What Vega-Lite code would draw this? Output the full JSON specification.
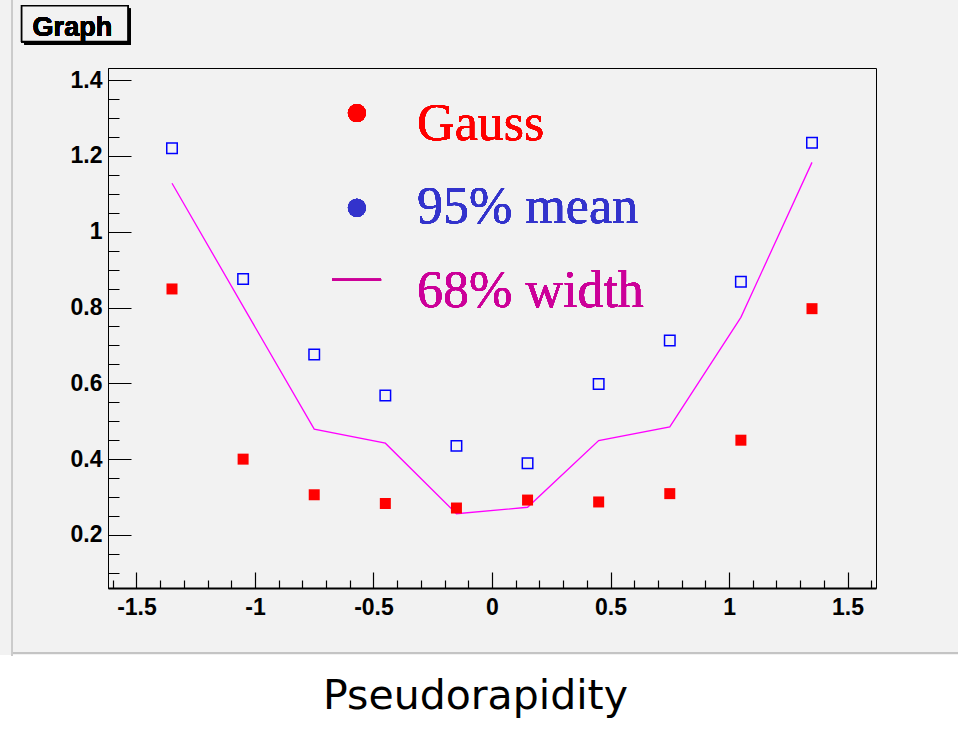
{
  "$schema": "https://vega.github.io/schema/vega-lite/v6.json",
  "autosize": "none",
  "width": 768,
  "height": 520,
  "padding": {"left": 108, "top": 68, "right": 82, "bottom": 155},
  "background": "#f2f2f2",
  "config": {"view": {"stroke": "black", "strokeWidth": 1}},
  "resolve": {"axis": {"x": "independent", "y": "independent"}},
  "data": {"values": [
    {"eta": -1.35, "gauss": 0.849, "mean95": 1.220, "width68": 1.128},
    {"eta": -1.05, "gauss": 0.400, "mean95": 0.875, "width68": 0.803},
    {"eta": -0.75, "gauss": 0.306, "mean95": 0.676, "width68": 0.479},
    {"eta": -0.45, "gauss": 0.283, "mean95": 0.568, "width68": 0.442},
    {"eta": -0.15, "gauss": 0.271, "mean95": 0.435, "width68": 0.256},
    {"eta": 0.15, "gauss": 0.292, "mean95": 0.389, "width68": 0.273},
    {"eta": 0.45, "gauss": 0.287, "mean95": 0.598, "width68": 0.449},
    {"eta": 0.75, "gauss": 0.309, "mean95": 0.713, "width68": 0.485},
    {"eta": 1.05, "gauss": 0.450, "mean95": 0.868, "width68": 0.774},
    {"eta": 1.35, "gauss": 0.797, "mean95": 1.235, "width68": 1.183}
  ]},
  "layer": [
    {
      "mark": {"type": "line", "color": "#ff00ff", "strokeWidth": 1.3},
      "encoding": {
        "x": {
          "field": "eta", "type": "quantitative",
          "scale": {"domain": [-1.62, 1.62], "nice": false, "zero": false},
          "axis": {
            "values": [-1.6,-1.5,-1.4,-1.3,-1.2,-1.1,-1,-0.9,-0.8,-0.7,-0.6,-0.5,-0.4,-0.3,-0.2,-0.1,0,0.1,0.2,0.3,0.4,0.5,0.6,0.7,0.8,0.9,1,1.1,1.2,1.3,1.4,1.5,1.6],
            "orient": "bottom",
            "grid": false,
            "domainColor": "black", "domainWidth": 2,
            "tickColor": "black", "tickWidth": 1.2,
            "tickSize": {"condition": {"test": "abs(datum.value*2-round(datum.value*2))<1e-6", "value": -16}, "value": -8},
            "labelExpr": "abs(datum.value*2-round(datum.value*2))<1e-6 ? ''+datum.value : ''",
            "labelFont": "Liberation Sans", "labelFontWeight": "bold", "labelFontSize": 23, "labelColor": "black",
            "labelPadding": 24, "labelOverlap": false, "labelFlush": false,
            "title": "Pseudorapidity",
            "titleFont": "DejaVu Sans", "titleFontSize": 41, "titleFontWeight": "normal", "titleColor": "black",
            "titleX": 367, "titleY": 120, "titleBaseline": "alphabetic", "titleAlign": "center",
            "zindex": 1
          }
        },
        "y": {
          "field": "width68", "type": "quantitative",
          "scale": {"domain": [0.06, 1.432], "nice": false, "zero": false},
          "axis": {
            "values": [0.1,0.15,0.2,0.25,0.3,0.35,0.4,0.45,0.5,0.55,0.6,0.65,0.7,0.75,0.8,0.85,0.9,0.95,1,1.05,1.1,1.15,1.2,1.25,1.3,1.35,1.4],
            "orient": "left",
            "grid": false,
            "domainColor": "black", "domainWidth": 1,
            "tickColor": "black", "tickWidth": 1,
            "tickSize": {"condition": {"test": "abs(datum.value*5-round(datum.value*5))<1e-6", "value": -23}, "value": -11},
            "labelExpr": "abs(datum.value*5-round(datum.value*5))<1e-6 ? ''+datum.value : ''",
            "labelFont": "Liberation Sans", "labelFontWeight": "bold", "labelFontSize": 23, "labelColor": "black",
            "labelPadding": 29, "labelOverlap": false, "labelFlush": false,
            "title": null,
            "zindex": 1
          }
        }
      }
    },
    {
      "mark": {"type": "rect", "fill": "white", "clip": false},
      "encoding": {
        "x": {"datum": -2.2, "type": "quantitative", "axis": null},
        "x2": {"datum": 2.2},
        "y": {"datum": -0.118, "type": "quantitative", "axis": null},
        "y2": {"datum": -0.6}
      }
    },
    {
      "mark": {"type": "rule", "color": "#c4c4c4", "strokeWidth": 1.5, "clip": false},
      "encoding": {
        "x": {"datum": -2.025, "type": "quantitative", "axis": null},
        "x2": {"datum": 2.2},
        "y": {"datum": -0.111, "type": "quantitative", "axis": null}
      }
    },
    {
      "mark": {"type": "rule", "color": "#cccccc", "strokeWidth": 1.7, "clip": false},
      "encoding": {
        "x": {"datum": -2.025, "type": "quantitative", "axis": null},
        "y": {"datum": 1.75, "type": "quantitative", "axis": null},
        "y2": {"datum": -0.118}
      }
    },
    {
      "mark": {"type": "rect", "fill": "black", "clip": false},
      "encoding": {
        "x": {"datum": -1.972, "type": "quantitative", "axis": null},
        "x2": {"datum": -1.524},
        "y": {"datum": 1.588, "type": "quantitative", "axis": null},
        "y2": {"datum": 1.494}
      }
    },
    {
      "mark": {"type": "rect", "fill": "#f2f2f2", "stroke": "black", "strokeWidth": 1.5, "clip": false},
      "encoding": {
        "x": {"datum": -1.984, "type": "quantitative", "axis": null},
        "x2": {"datum": -1.536},
        "y": {"datum": 1.596, "type": "quantitative", "axis": null},
        "y2": {"datum": 1.502}
      }
    },
    {
      "mark": {"type": "text", "text": "Graph", "font": "Liberation Sans", "fontWeight": "bold", "fontSize": 27, "align": "left", "baseline": "alphabetic", "color": "black", "clip": false},
      "encoding": {
        "x": {"datum": -1.938, "type": "quantitative", "axis": null},
        "y": {"datum": 1.517, "type": "quantitative", "axis": null}
      }
    },
    {
      "mark": {"type": "point", "shape": "square", "filled": true, "color": "#ff0000", "size": 121, "opacity": 1},
      "encoding": {
        "x": {"field": "eta", "type": "quantitative", "axis": null},
        "y": {"field": "gauss", "type": "quantitative", "axis": null}
      }
    },
    {
      "mark": {"type": "point", "shape": "square", "filled": false, "stroke": "#0000ff", "strokeWidth": 1.5, "size": 110, "opacity": 1},
      "encoding": {
        "x": {"field": "eta", "type": "quantitative", "axis": null},
        "y": {"field": "mean95", "type": "quantitative", "axis": null}
      }
    },
    {
      "mark": {"type": "point", "shape": "circle", "filled": true, "color": "#ff0000", "size": 324, "opacity": 1},
      "encoding": {
        "x": {"datum": -0.570, "type": "quantitative", "axis": null},
        "y": {"datum": 1.313, "type": "quantitative", "axis": null}
      }
    },
    {
      "mark": {"type": "point", "shape": "circle", "filled": true, "color": "#3333cc", "size": 324, "opacity": 1},
      "encoding": {
        "x": {"datum": -0.570, "type": "quantitative", "axis": null},
        "y": {"datum": 1.063, "type": "quantitative", "axis": null}
      }
    },
    {
      "mark": {"type": "rule", "color": "#cc0099", "strokeWidth": 2},
      "encoding": {
        "x": {"datum": -0.675, "type": "quantitative", "axis": null},
        "x2": {"datum": -0.468},
        "y": {"datum": 0.873, "type": "quantitative", "axis": null}
      }
    },
    {
      "mark": {"type": "text", "text": "Gauss", "font": "Liberation Serif", "fontSize": 52, "align": "left", "baseline": "alphabetic", "color": "#ff0000"},
      "encoding": {
        "x": {"datum": -0.316, "type": "quantitative", "axis": null},
        "y": {"datum": 1.242, "type": "quantitative", "axis": null}
      }
    },
    {
      "mark": {"type": "text", "text": "95% mean", "font": "Liberation Serif", "fontSize": 52, "align": "left", "baseline": "alphabetic", "color": "#3333cc"},
      "encoding": {
        "x": {"datum": -0.316, "type": "quantitative", "axis": null},
        "y": {"datum": 1.023, "type": "quantitative", "axis": null}
      }
    },
    {
      "mark": {"type": "text", "text": "68% width", "font": "Liberation Serif", "fontSize": 52, "align": "left", "baseline": "alphabetic", "color": "#cc0099"},
      "encoding": {
        "x": {"datum": -0.316, "type": "quantitative", "axis": null},
        "y": {"datum": 0.802, "type": "quantitative", "axis": null}
      }
    }
  ]
}
